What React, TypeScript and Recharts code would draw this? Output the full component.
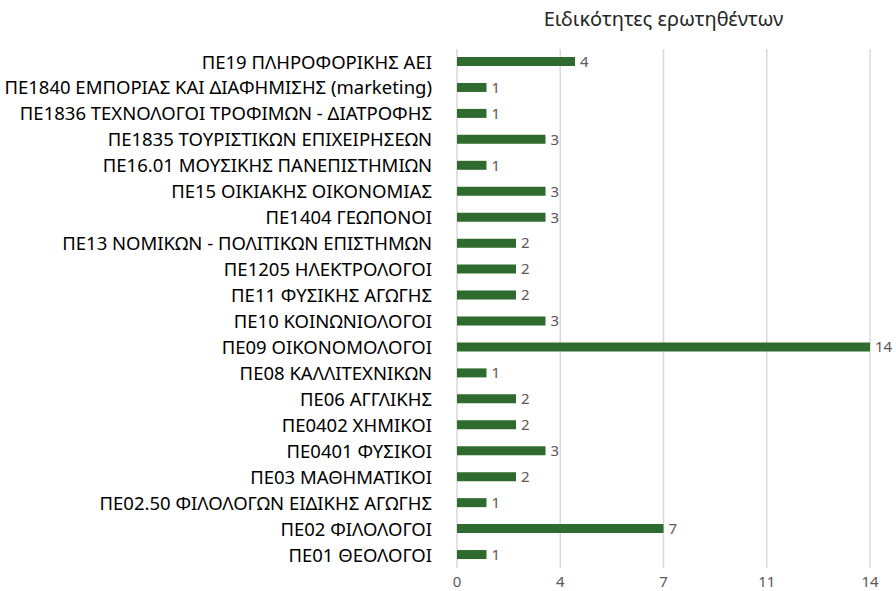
import React from "react";
import {
  BarChart,
  Bar,
  XAxis,
  YAxis,
  CartesianGrid,
  LabelList,
} from "recharts";

// categories top to bottom as shown in the picture
const categories = [
  "ΠΕ19 ΠΛΗΡΟΦΟΡΙΚΗΣ ΑΕΙ",
  "ΠΕ1840 ΕΜΠΟΡΙΑΣ ΚΑΙ ΔΙΑΦΗΜΙΣΗΣ (marketing)",
  "ΠΕ1836 ΤΕΧΝΟΛΟΓΟΙ ΤΡΟΦΙΜΩΝ - ΔΙΑΤΡΟΦΗΣ",
  "ΠΕ1835 ΤΟΥΡΙΣΤΙΚΩΝ ΕΠΙΧΕΙΡΗΣΕΩΝ",
  "ΠΕ16.01 ΜΟΥΣΙΚΗΣ ΠΑΝΕΠΙΣΤΗΜΙΩΝ",
  "ΠΕ15 ΟΙΚΙΑΚΗΣ ΟΙΚΟΝΟΜΙΑΣ",
  "ΠΕ1404 ΓΕΩΠΟΝΟΙ",
  "ΠΕ13 ΝΟΜΙΚΩΝ - ΠΟΛΙΤΙΚΩΝ ΕΠΙΣΤΗΜΩΝ",
  "ΠΕ1205 ΗΛΕΚΤΡΟΛΟΓΟΙ",
  "ΠΕ11 ΦΥΣΙΚΗΣ ΑΓΩΓΗΣ",
  "ΠΕ10 ΚΟΙΝΩΝΙΟΛΟΓΟΙ",
  "ΠΕ09 ΟΙΚΟΝΟΜΟΛΟΓΟΙ",
  "ΠΕ08 ΚΑΛΛΙΤΕΧΝΙΚΩΝ",
  "ΠΕ06 ΑΓΓΛΙΚΗΣ",
  "ΠΕ0402 ΧΗΜΙΚΟΙ",
  "ΠΕ0401 ΦΥΣΙΚΟΙ",
  "ΠΕ03 ΜΑΘΗΜΑΤΙΚΟΙ",
  "ΠΕ02.50 ΦΙΛΟΛΟΓΩΝ ΕΙΔΙΚΗΣ ΑΓΩΓΗΣ",
  "ΠΕ02 ΦΙΛΟΛΟΓΟΙ",
  "ΠΕ01 ΘΕΟΛΟΓΟΙ",
];

const counts = [4, 1, 1, 3, 1, 3, 3, 2, 2, 2, 3, 14, 1, 2, 2, 3, 2, 1, 7, 1];

// excel put the gridlines at 0, 3.5, 7, 10.5, 14 and rounds the labels
const xTicks = [0, 3.5, 7, 10.5, 14];

const title = "Ειδικότητες ερωτηθέντων";

const FONT = "'Noto Sans', sans-serif";

export default function App() {
  const data = categories.map((name, i) => ({ name, value: counts[i] }));

  return (
    <div style={{ position: "absolute", left: 0, top: 0, width: 896, height: 591, background: "#fff", fontFamily: FONT }}>
      <div
        style={{
          position: "absolute",
          left: 457,
          width: 413,
          top: 5,
          textAlign: "center",
          fontSize: 20,
          color: "#262626",
        }}
      >
        {title}
      </div>
      <BarChart
        layout="vertical"
        width={896}
        height={591}
        data={data}
        margin={{ top: 49, right: 26, bottom: 0, left: 0 }}
        barCategoryGap={8}
      >
        <CartesianGrid horizontal={false} stroke="#d9d9d9" strokeWidth={1.5} />
        <XAxis
          type="number"
          domain={[0, 14]}
          ticks={xTicks}
          tickFormatter={(v: number) => String(Math.round(v))}
          axisLine={false}
          tickLine={false}
          height={23}
          tickMargin={2}
          tick={{ fill: "#595959", fontSize: 15, fontFamily: FONT }}
        />
        <YAxis
          type="category"
          dataKey="name"
          width={457}
          axisLine={false}
          tickLine={false}
          tickMargin={19}
          interval={0}
          tick={{ fill: "#000", fontSize: 18.5, fontFamily: FONT }}
        />
        <Bar dataKey="value" fill="#2f6a2f" barSize={9} isAnimationActive={false}>
          <LabelList
            dataKey="value"
            position="right"
            offset={5}
            fill="#595959"
            fontSize={15}
            fontFamily={FONT}
          />
        </Bar>
      </BarChart>
    </div>
  );
}
